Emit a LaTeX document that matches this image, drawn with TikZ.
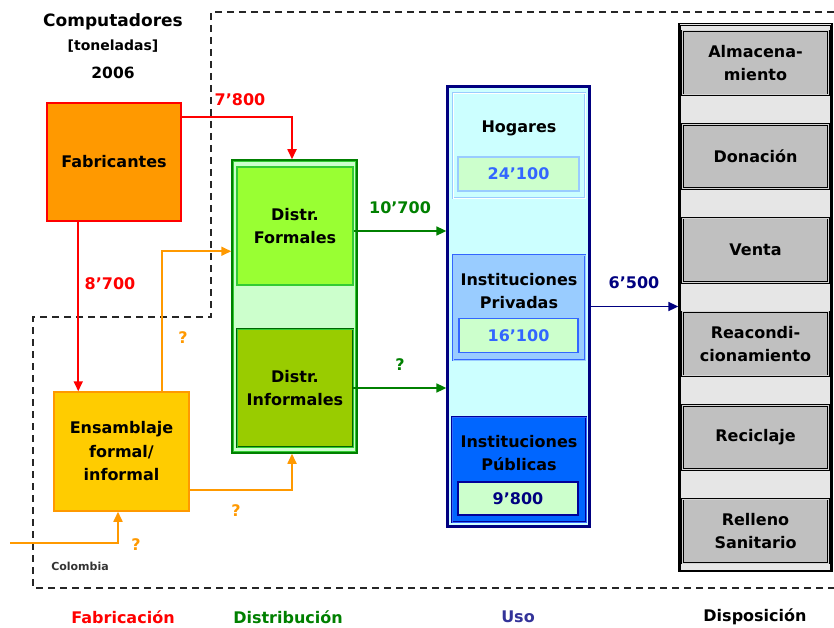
\documentclass[tikz,border=0pt]{standalone}
\usepackage{fontspec}
\setmainfont{DejaVu Sans}
\usetikzlibrary{calc,arrows.meta,positioning}

\definecolor{fabred}{HTML}{FF0000}
\definecolor{fabfill}{HTML}{FF9900}
\definecolor{ensfill}{HTML}{FFCC00}
\definecolor{ensline}{HTML}{FF9900}
\definecolor{distgreen}{HTML}{008000}
\definecolor{distback}{HTML}{CCFFCC}
\definecolor{formfill}{HTML}{99FF33}
\definecolor{formline}{HTML}{33CC33}
\definecolor{inffill}{HTML}{99CC00}
\definecolor{infline}{HTML}{006600}
\definecolor{usoback}{HTML}{CCFFFF}
\definecolor{usonavy}{HTML}{000080}
\definecolor{hogline}{HTML}{99CCFF}
\definecolor{privfill}{HTML}{99CCFF}
\definecolor{privline}{HTML}{3366FF}
\definecolor{pubfill}{HTML}{0066FF}
\definecolor{publine}{HTML}{000099}
\definecolor{valfill}{HTML}{CCFFCC}
\definecolor{dispback}{HTML}{E6E6E6}
\definecolor{dispfill}{HTML}{C0C0C0}
\definecolor{usolabel}{HTML}{333399}

\newcommand{\boxfont}{\fontsize{16}{23.5}\selectfont\bfseries}
\newcommand{\smallfont}{\fontsize{11}{13}\selectfont\bfseries}
% second line inside a box
\newcommand{\innerFrame}[3]{
	\draw[#1] ($(#2.north west)+(#3,#3)$) rectangle ($(#2.south east)+(-#3,-#3)$);
}

\tikzstyle{flowbox}=[rectangle, inner sep=0pt, align=center, font=\boxfont]
\tikzstyle{fabbox}=[flowbox, fill=fabfill, draw=fabred, line width=1.5pt]
\tikzstyle{ensbox}=[flowbox, fill=ensfill, draw=ensline, line width=1.5pt]
\tikzstyle{distouter}=[flowbox, fill=distback, draw=distgreen, line width=1.5pt]
\tikzstyle{formbox}=[flowbox, fill=formfill, draw=formline, line width=1.5pt]
\tikzstyle{infbox}=[flowbox, fill=inffill, draw=infline, line width=0.8pt, double=formline, double distance=0.8pt]
\tikzstyle{usoouter}=[flowbox, fill=usoback, draw=usonavy, line width=1.3pt]
\tikzstyle{hogbox}=[flowbox, fill=usoback, draw=hogline, line width=0.8pt, double=white, double distance=0.8pt]
\tikzstyle{privbox}=[flowbox, fill=privfill, draw=privline, line width=0.8pt, double=hogline, double distance=0.8pt]
\tikzstyle{pubbox}=[flowbox, fill=pubfill, draw=publine, line width=0.8pt, double=privline, double distance=0.8pt]
\tikzstyle{valbox}=[flowbox, fill=valfill, minimum height=34pt]
\tikzstyle{dispouter}=[flowbox, fill=dispback, draw=black, line width=1.3pt]
\tikzstyle{dispbox}=[flowbox, fill=dispfill, draw=black, line width=0.8pt, double=dispfill!70!white, double distance=1pt, minimum width=146pt, minimum height=64pt]
\tikzstyle{flow}=[line width=1.7pt, -{Triangle[length=10pt,width=9pt]}]
\tikzstyle{frontier}=[line width=2pt, black!85, dash pattern=on 7pt off 5pt]
\tikzstyle{qty}=[font=\boxfont]

\begin{document}
\begin{tikzpicture}[x=1pt, y=-1pt]
	\useasboundingbox (0,0) rectangle (834,628);
	% frontera Colombia
	\draw[frontier] (834,12) -- (211,12) -- (211,317) -- (33,317) -- (33,588) -- (834,588);
	\node[font=\smallfont, black!80] (col) at (80,566) {Colombia};

	% titulo
	\node[font=\fontsize{17}{20}\selectfont\bfseries] (tit) at (113,22) {Computadores};
	\node[font=\fontsize{14}{16}\selectfont\bfseries] (ton) at (113,46) {[toneladas]};
	\node[font=\fontsize{15.5}{18}\selectfont\bfseries] (anio) at (113,73) {2006};

	% fabricacion
	\node[fabbox, minimum width=134pt, minimum height=118pt] (fab) at (114,162) {Fabricantes};
	\node[ensbox, minimum width=135pt, minimum height=119pt] (ens) at (121.5,451.5) {Ensamblaje\\formal/\\informal};

	% distribucion
	\node[distouter, minimum width=125pt, minimum height=293pt] (dist) at (294.5,306.5) {};
	\innerFrame{formline, line width=0.8pt}{dist}{2.2}
	\node[formbox, minimum width=116pt, minimum height=118pt] (form) at (295,226) {Distr.\\Formales};
	\node[infbox, minimum width=116pt, minimum height=118pt] (inf) at (295,388) {Distr.\\Informales};

	% uso
	\node[usoouter, minimum width=143pt, minimum height=441pt] (uso) at (518.5,306.5) {};
	\innerFrame{usonavy, line width=0.7pt}{uso}{2.2}
	\node[hogbox, minimum width=132pt, minimum height=105pt] (hog) at (519,145.5) {};
	\node[qty] (hogt) at (519,128) {Hogares};
	\node[valbox, draw=hogline, line width=1.2pt, minimum width=121pt, text=privline] (hogv) at (518.5,174) {24’100};
	\node[privbox, minimum width=132pt, minimum height=105pt] (priv) at (519,307.5) {};
	\node[qty, align=center] (privt) at (519,291) {Instituciones\\Privadas};
	\node[valbox, draw=privline, line width=1.5pt, minimum width=119pt, text=privline] (privv) at (518.5,335.5) {16’100};
	\node[pubbox, minimum width=134pt, minimum height=105pt] (pub) at (519,469.5) {};
	\node[qty, align=center] (pubt) at (519,453) {Instituciones\\Públicas};
	\node[valbox, draw=publine, line width=1.5pt, minimum width=120pt, minimum height=33pt, text=usonavy] (pubv) at (518,498.5) {9’800};

	% disposicion
	\node[dispouter, minimum width=153pt, minimum height=548pt] (disp) at (755.5,297.5) {};
	\innerFrame{black, line width=0.7pt}{disp}{2.2}
	\foreach \nm/\txt [count=\i from 0] in {alm/{Almacena-\\miento}, don/{Donación}, ven/{Venta}, rea/{Reacondi-\\cionamiento}, rec/{Reciclaje}, rel/{Relleno\\Sanitario}}
		\node[dispbox] (\nm) at (755.5,{63+93.6*\i}) {\txt};

	% flujos
	\draw[flow, fabred] ($(fab.north east)+(0,15)$) -| ($(dist.north)+(-2.5,0)$);
	\node[qty, fabred] (q1) at (240,100) {7’800};
	\draw[flow, fabred] ($(fab.south west)+(32,0)$) coordinate (r1) -- (r1 |- ens.north);
	\node[qty, fabred] (q2) at (110,284) {8’700};
	\draw[flow, ensline] ($(ens.north west)+(109,0)$) |- ($(dist.north west)+(0,92)$);
	\node[qty, ensline] (q3) at (183,338) {?};
	\draw[flow, ensline] ($(ens.south east)+(0,-22)$) -| ($(dist.south)+(-2.5,0)$);
	\node[qty, ensline] (q4) at (236,511) {?};
	\coordinate (src) at (10,543);
	\draw[flow, ensline] (src) -| ($(ens.south)+(-3.5,0)$);
	\node[qty, ensline] (q5) at (136,545) {?};
	\draw[flow, distgreen] ($(form.east)+(0,5)$) coordinate (f1) -- (f1 -| uso.west);
	\node[qty, distgreen] (q6) at (400,208) {10’700};
	\draw[flow, distgreen] (inf.east) -- (inf.east -| uso.west);
	\node[qty, distgreen] (q7) at (400,365) {?};
	\draw[flow, usonavy] (uso.east) -- (uso.east -| disp.west);
	\node[qty, usonavy] (q8) at (634,283) {6’500};

	% etapas
	\node[qty, fabred, inner sep=1pt] (e1) at (123,617) {Fabricación};
	\node[qty, distgreen, inner sep=1pt] (e2) at (288,617) {Distribución};
	\node[qty, usolabel, inner sep=1pt] (e3) at (518,617) {Uso};
	\node[qty, inner sep=1pt] (e4) at (755,617) {Disposición};
\end{tikzpicture}
\end{document}
